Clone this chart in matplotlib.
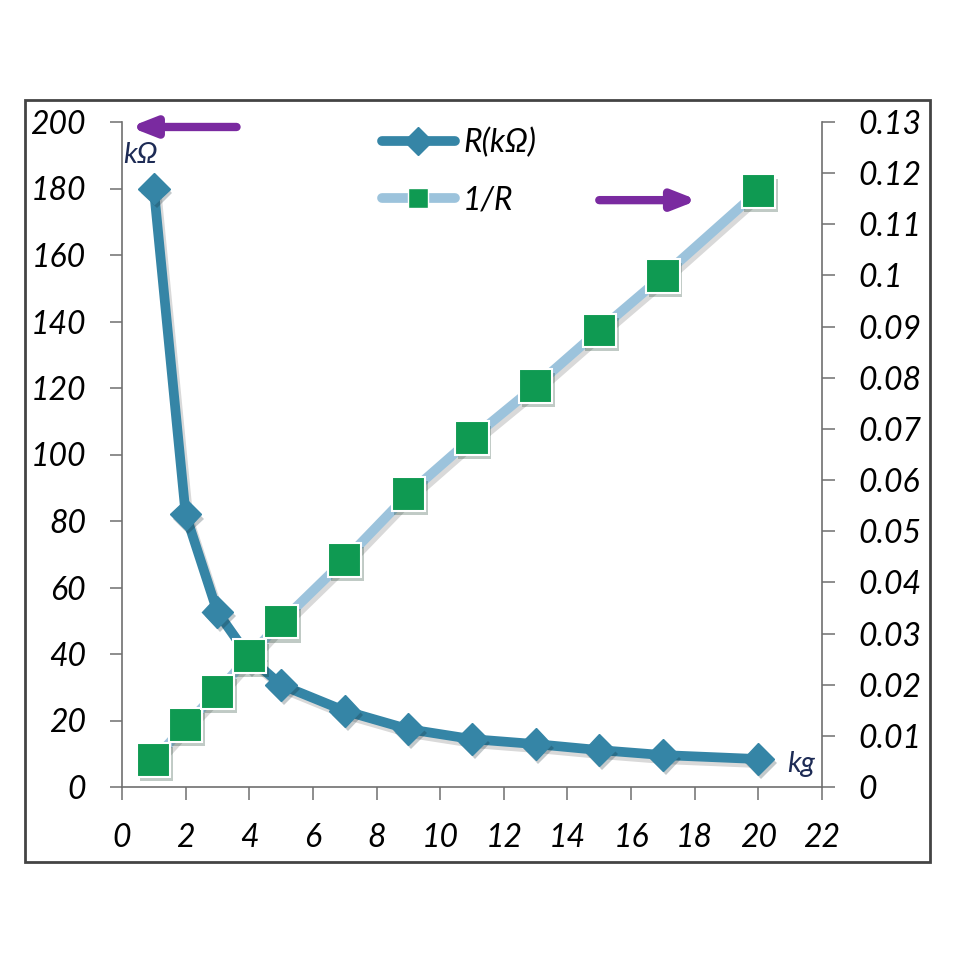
import matplotlib
matplotlib.use("Agg")
import matplotlib.pyplot as plt
from matplotlib.lines import Line2D
from matplotlib.patches import Rectangle
import matplotlib.patheffects as pe

# datos
load_kg = [1, 2, 3, 4, 5, 7, 9, 11, 13, 15, 17, 20]
r_kohm = [180, 82, 52.6, 39, 30.7, 22.9, 17.4, 14.4, 12.9, 11.1, 9.6, 8.4]
inv_r = [0.0053, 0.0121, 0.0186, 0.0256, 0.0323, 0.0444, 0.0573,
         0.0682, 0.0784, 0.0893, 0.0999, 0.1165]

x_ticks = list(range(0, 23, 2))
left_ticks = list(range(0, 201, 20))
right_ticks = [0, 0.01, 0.02, 0.03, 0.04, 0.05, 0.06, 0.07, 0.08, 0.09,
               0.1, 0.11, 0.12, 0.13]
right_labels = ["0", "0.01", "0.02", "0.03", "0.04", "0.05", "0.06", "0.07",
                "0.08", "0.09", "0.1", "0.11", "0.12", "0.13"]

C_R = "#3585a6"
C_INV = "#9cc3dc"
C_SQ = "#0f9a52"
C_ARROW = "#7a2aa0"
C_UNIT = "#1d2b55"
FONT = "Lato"

plt.rcParams["font.family"] = [FONT, "DejaVu Sans"]
plt.rcParams["font.style"] = "italic"

fig = plt.figure(figsize=(9.6, 9.6), dpi=100)
ax = fig.add_axes([122 / 960, 1 - 787 / 960, 700 / 960, 665 / 960])
ax2 = ax.twinx()

shadow = [pe.SimplePatchShadow(offset=(2, -3), alpha=0.25), pe.Normal()]
line_shadow = [pe.SimpleLineShadow(offset=(2, -3), alpha=0.15), pe.Normal()]

# linea y marcadores por separado (la sombra solo sobre los marcadores)
ax.plot(load_kg, r_kohm, color=C_R, lw=7, solid_capstyle="round",
        solid_joinstyle="round", path_effects=line_shadow)
ax.plot(load_kg, r_kohm, ls="none", marker="D", ms=16,
        mfc=C_R, mec=C_R, path_effects=shadow)
ax2.plot(load_kg, inv_r, color=C_INV, lw=7, solid_capstyle="round",
         path_effects=line_shadow)
ax2.plot(load_kg, inv_r, ls="none", marker="s", ms=24,
         mfc=C_SQ, mec="white", mew=1.5, path_effects=shadow)

ax.set_xlim(0, 22)
ax.set_ylim(0, 200)
ax2.set_ylim(0, 0.13)

ax.set_xticks(x_ticks)
ax.set_xticklabels([str(v) for v in x_ticks])
ax.set_yticks(left_ticks)
ax.set_yticklabels([str(v) for v in left_ticks])
ax2.set_yticks(right_ticks)
ax2.set_yticklabels(right_labels)

for a in (ax, ax2):
    a.spines["top"].set_visible(False)
    for s in ("left", "right", "bottom"):
        a.spines[s].set_color("#6f6f6f")
        a.spines[s].set_linewidth(1.2)
    a.tick_params(labelsize=23, length=9, width=1.1, color="#6f6f6f",
                  direction="out")
ax.spines["right"].set_visible(False)
ax2.spines["left"].set_visible(False)
ax2.spines["bottom"].set_visible(False)
ax.tick_params(axis="y", pad=17)
ax.tick_params(axis="x", pad=17)
ax2.tick_params(axis="y", pad=17)

# etiquetas de unidades
ax.text(0.05, 190, "k\u03a9", fontsize=21, color=C_UNIT, ha="left", va="center")
ax.text(20.9, 6.8, "kg", fontsize=21, color=C_UNIT, ha="left", va="center")

# flechas que indican el eje
arrow_kw = dict(arrowstyle="-|>,head_length=1.4,head_width=0.55",
                color=C_ARROW, lw=6, shrinkA=0, shrinkB=0)
ax.annotate("", xy=(0.25, 198.5), xytext=(3.6, 198.5), arrowprops=arrow_kw)
ax.annotate("", xy=(18.1, 176.5), xytext=(15, 176.5), arrowprops=arrow_kw)

handles = [
    Line2D([], [], color=C_R, lw=7, marker="D", ms=14, mfc=C_R, mec=C_R,
           solid_capstyle="round"),
    Line2D([], [], color=C_INV, lw=7, marker="s", ms=15, mfc=C_SQ, mec="white",
           solid_capstyle="round"),
]
ax2.legend(handles, ["R(k\u03a9)", "1/R"], loc="upper left",
           bbox_to_anchor=(0.33, 1.035), frameon=False, fontsize=23,
           handlelength=2.3, handletextpad=0.25, labelspacing=0.85)

fig.patches.append(Rectangle((25 / 960, 1 - 862 / 960), 905 / 960, 762 / 960,
                             transform=fig.transFigure, fill=False,
                             edgecolor="#444444", lw=2))

fig.savefig("out.png", dpi=100)
